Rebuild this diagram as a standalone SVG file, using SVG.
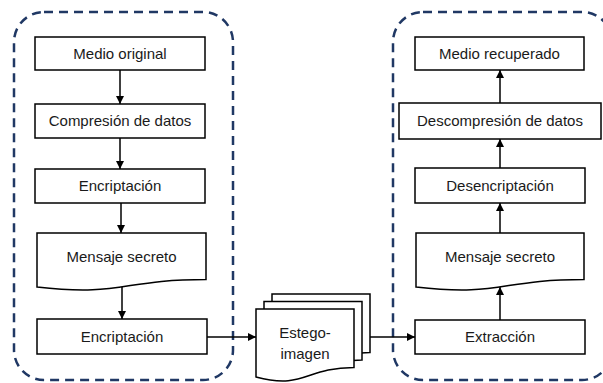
<svg xmlns="http://www.w3.org/2000/svg" width="603" height="383" viewBox="0 0 603 383">
<style>
.bg{fill:#ffffff}
.grp{fill:none;stroke:#203864;stroke-width:2.5;stroke-dasharray:9 6}
.box{fill:#ffffff;stroke:#000000;stroke-width:1.5}
.lbl{font-family:"Liberation Sans",Arial,sans-serif;font-size:15px;fill:#1a1a1a;text-anchor:middle}
.edge{fill:none;stroke:#000000;stroke-width:1.5}
</style>
<defs>
<marker id="ah" viewBox="0 0 10 10" refX="10" refY="5" markerWidth="8" markerHeight="8" markerUnits="userSpaceOnUse" orient="auto">
<path d="M0,0 L10,5 L0,10 z" fill="#000000"/>
</marker>
</defs>
<rect class="bg" x="0" y="0" width="603" height="383"/>
<g id="grupo-emisor"><rect class="grp" x="14" y="12" width="219" height="368" rx="30" ry="30"/></g>
<g id="grupo-receptor"><rect class="grp" x="393" y="12" width="219" height="368" rx="30" ry="30"/></g>

<g id="connectors">
<line class="edge" x1="120" y1="70" x2="120" y2="104" marker-end="url(#ah)"/>
<line class="edge" x1="120" y1="138" x2="120" y2="169" marker-end="url(#ah)"/>
<line class="edge" x1="121" y1="203" x2="121" y2="233" marker-end="url(#ah)"/>
<line class="edge" x1="122" y1="287" x2="122" y2="319" marker-end="url(#ah)"/>
<line class="edge" x1="207" y1="337" x2="256" y2="337" marker-end="url(#ah)"/>
<line class="edge" x1="370" y1="337" x2="415" y2="337" marker-end="url(#ah)"/>
<line class="edge" x1="500" y1="320" x2="500" y2="287" marker-end="url(#ah)"/>
<line class="edge" x1="500" y1="233" x2="500" y2="203" marker-end="url(#ah)"/>
<line class="edge" x1="500" y1="168" x2="500" y2="139" marker-end="url(#ah)"/>
<line class="edge" x1="500" y1="103" x2="500" y2="70" marker-end="url(#ah)"/>
</g>

<g id="medio-original"><rect class="box" x="35" y="37" width="170" height="33"/><text class="lbl" x="120" y="59">Medio original</text></g>
<g id="compresion"><rect class="box" x="35" y="104" width="170" height="34"/><text class="lbl" x="120" y="126">Compresión de datos</text></g>
<g id="encriptacion-1"><rect class="box" x="35" y="169" width="170" height="34"/><text class="lbl" x="120" y="191">Encriptación</text></g>
<g id="mensaje-secreto-1"><path class="box" d="M37,233 H206 V279.4 C121.5,279.4 121.5,297 37,287 Z"/><text class="lbl" x="121.5" y="262">Mensaje secreto</text></g>
<g id="encriptacion-2"><rect class="box" x="37" y="319" width="170" height="35"/><text class="lbl" x="122" y="342">Encriptación</text></g>

<g id="estego-imagen">
<path class="box" d="M272,294 H370 V352.4 C321,352.4 321,374.7 272,362 Z"/>
<path class="box" d="M264,301.5 H362 V359.9 C313,359.9 313,382.2 264,369.5 Z"/>
<path class="box" d="M256,309 H354 V367.4 C305,367.4 305,389.7 256,377 Z"/>
<text class="lbl" x="305" y="338">Estego-</text>
<text class="lbl" x="305" y="359">imagen</text>
</g>

<g id="extraccion"><rect class="box" x="415" y="320" width="170" height="34"/><text class="lbl" x="500" y="342">Extracción</text></g>
<g id="mensaje-secreto-2"><path class="box" d="M416,233 H584 V279.4 C500,279.4 500,297 416,287 Z"/><text class="lbl" x="500" y="262">Mensaje secreto</text></g>
<g id="desencriptacion"><rect class="box" x="415" y="168" width="170" height="35"/><text class="lbl" x="500" y="191">Desencriptación</text></g>
<g id="descompresion"><rect class="box" x="399" y="103" width="202" height="36"/><text class="lbl" x="500" y="126">Descompresión de datos</text></g>
<g id="medio-recuperado"><rect class="box" x="415" y="37" width="169" height="33"/><text class="lbl" x="499.5" y="59">Medio recuperado</text></g>
</svg>
